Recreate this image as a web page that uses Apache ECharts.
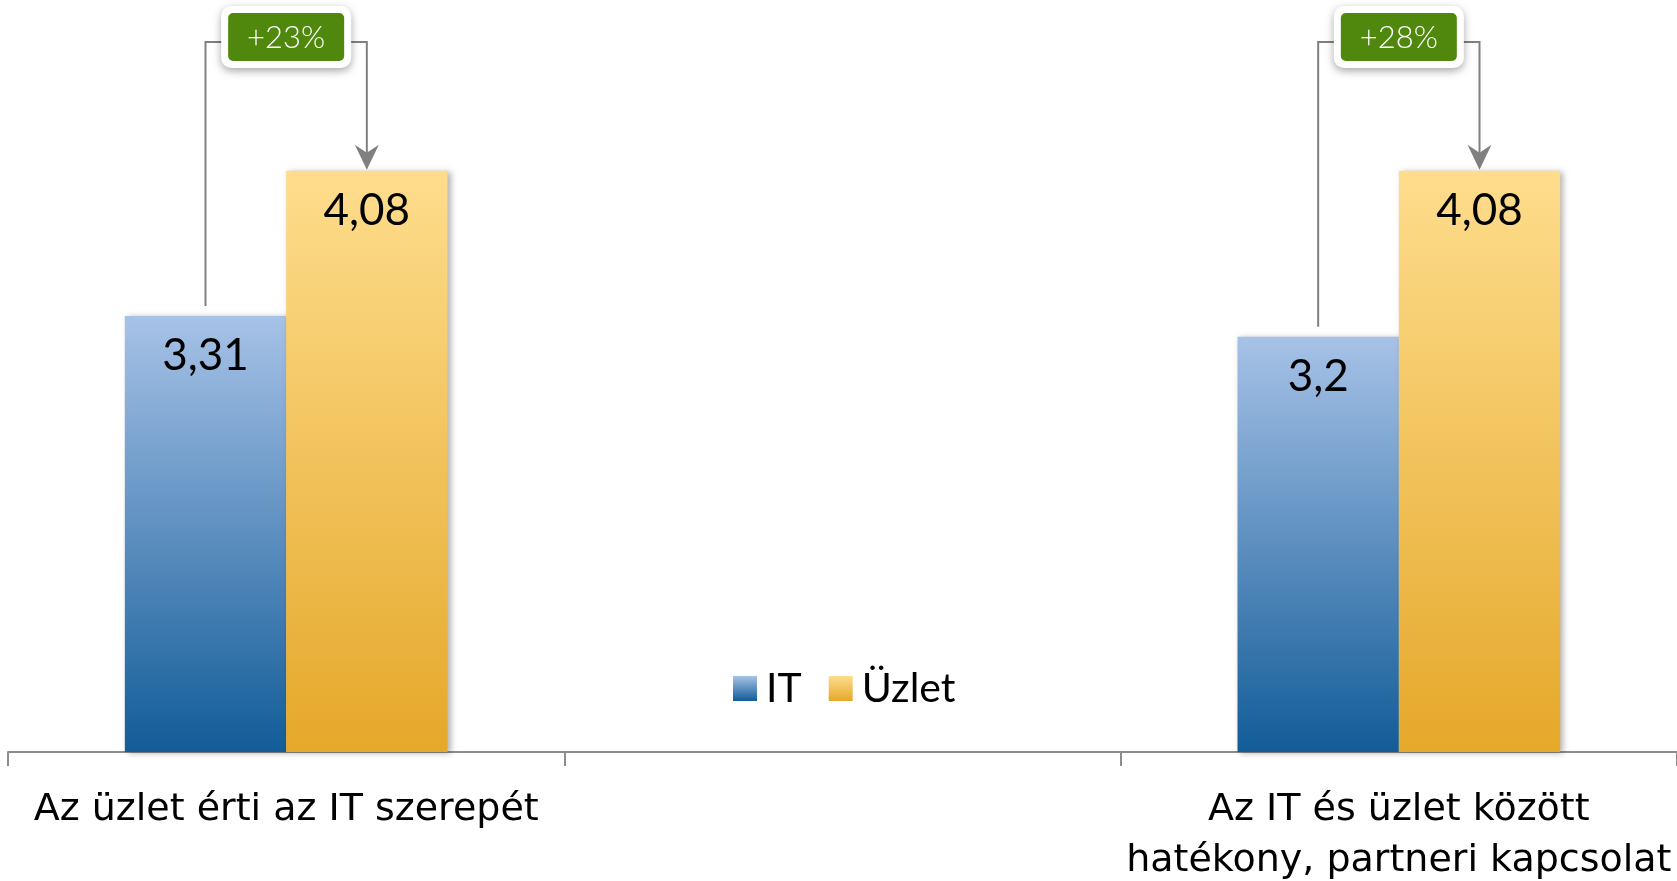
<!DOCTYPE html>
<html>
<head>
<meta charset="UTF-8">
<title>IT vs Üzlet</title>
<script src="https://cdn.jsdelivr.net/npm/echarts@6/dist/echarts.min.js"></script>
<style>
  html, body { margin: 0; padding: 0; background: #fff; }
  #main { width: 1677px; height: 881px; }
</style>
</head>
<body>
<div id="main"></div>
<script>
// data
var categories = ['Az üzlet érti az IT szerepét', '', 'Az IT és üzlet között\nhatékony, partneri kapcsolat'];
var itValues = [3.31, null, 3.2];
var uzletValues = [4.08, null, 4.08];
var changeLabels = ['+23%', null, '+28%'];
var seriesNames = ['IT', 'Üzlet'];

var FONT = 'Lato, "DejaVu Sans", sans-serif';
var AXIS_FONT = '"DejaVu Sans", sans-serif';
var GAP = 0.42;

var chart = echarts.init(document.getElementById('main'));

function grad(top, bottom) {
    return new echarts.graphic.LinearGradient(0, 0, 0, 1, [
        { offset: 0, color: top },
        { offset: 1, color: bottom }
    ]);
}

function comma(p) {
    return String(p.value).replace('.', ',');
}

var barShadow = { shadowColor: 'rgba(0,0,0,0.3)', shadowBlur: 6, shadowOffsetX: 3, shadowOffsetY: 1 };
var valueLabel = { show: true, position: 'insideTop', distance: 18, fontSize: 44, color: '#000', fontFamily: FONT, formatter: comma };

var option = {
    animation: false,
    grid: { left: 8, right: 0, top: 16, bottom: 129, containLabel: false, outerBoundsMode: 'none' },
    legend: {
        left: 728, top: 663,
        itemWidth: 24, itemHeight: 25, itemGap: 27,
        icon: 'rect',
        textStyle: { fontSize: 41, color: '#000', fontFamily: FONT, padding: [0, 0, 0, 4] },
        data: seriesNames
    },
    xAxis: {
        type: 'category',
        data: categories,
        axisLine: { lineStyle: { color: '#8c8c8c', width: 2 } },
        axisTick: { show: true, alignWithLabel: false, length: 14, lineStyle: { color: '#8c8c8c', width: 2 } },
        axisLabel: { interval: 0, fontSize: 38, lineHeight: 51, margin: 33, color: '#000', fontFamily: AXIS_FONT }
    },
    yAxis: { type: 'value', min: 1, max: 4.9, show: false, splitLine: { show: false } },
    series: [
        {
            name: seriesNames[0], type: 'bar', data: itValues,
            barCategoryGap: GAP * 100 + '%', barGap: '0%',
            itemStyle: Object.assign({ color: grad('#a7c2e7', '#125c98') }, barShadow),
            label: valueLabel
        },
        {
            name: seriesNames[1], type: 'bar', data: uzletValues,
            barCategoryGap: GAP * 100 + '%', barGap: '0%',
            itemStyle: Object.assign({ color: grad('#fedd8d', '#e5a82a') }, barShadow),
            label: valueLabel
        }
    ]
};
chart.setOption(option);

// callouts with the % change, placed from the bars' own pixel positions
function callouts() {
    var g = [];
    var band = chart.convertToPixel({ xAxisIndex: 0 }, 1) - chart.convertToPixel({ xAxisIndex: 0 }, 0);
    var barW = band * (1 - GAP) / 2;
    var lineY = 42, boxW = 130, gray = '#808080';
    categories.forEach(function (c, i) {
        if (!changeLabels[i]) return;
        var cx = chart.convertToPixel({ xAxisIndex: 0 }, i);
        var itX = cx - barW / 2, uzX = cx + barW / 2;
        var itTop = chart.convertToPixel({ yAxisIndex: 0 }, itValues[i]);
        var uzTop = chart.convertToPixel({ yAxisIndex: 0 }, uzletValues[i]);
        var tip = uzTop - 1;
        g.push({ type: 'polyline', shape: { points: [[itX, itTop - 10], [itX, lineY], [cx - boxW / 2 + 4, lineY]] },
            style: { stroke: gray, lineWidth: 2, fill: null } });
        g.push({ type: 'polyline', shape: { points: [[cx + boxW / 2 - 4, lineY], [uzX, lineY], [uzX, tip - 16]] },
            style: { stroke: gray, lineWidth: 2, fill: null } });
        g.push({ type: 'polygon', shape: { points: [[uzX, tip], [uzX - 12, tip - 25], [uzX, tip - 17], [uzX + 12, tip - 25]] },
            style: { fill: gray } });
        g.push({ type: 'rect', shape: { x: cx - boxW / 2, y: 6, width: boxW, height: 62, r: 10 },
            style: { fill: '#fff', shadowBlur: 8, shadowOffsetY: 3, shadowColor: 'rgba(0,0,0,0.35)' } });
        g.push({ type: 'rect', shape: { x: cx - 58, y: 13, width: 116, height: 48, r: 5 },
            style: { fill: '#4f880c' } });
        g.push({ type: 'text', x: cx, y: 38,
            style: { text: changeLabels[i], fill: '#fff', fontSize: 31, fontFamily: FONT, fontWeight: 300,
                align: 'center', verticalAlign: 'middle' } });
    });
    chart.setOption({ graphic: g });
}
callouts();
</script>
</body>
</html>
